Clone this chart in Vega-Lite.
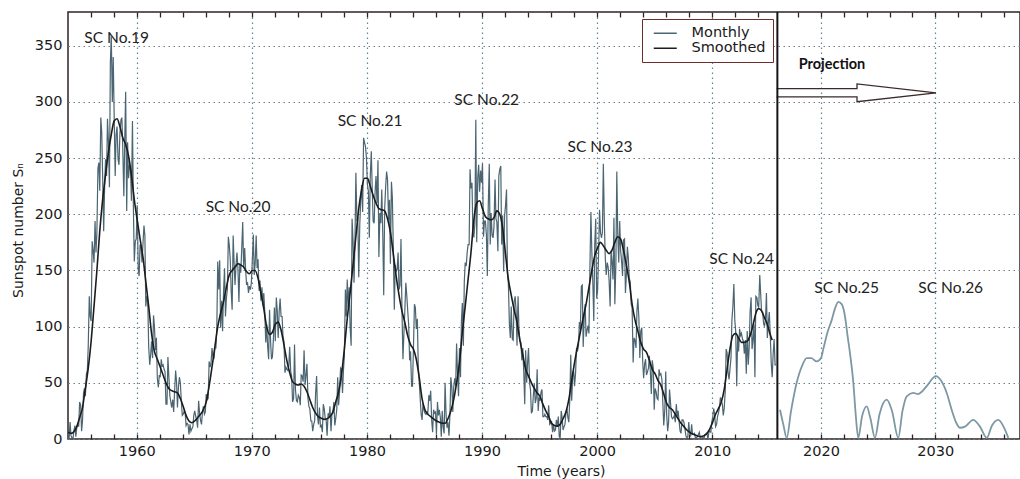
{
"$schema": "https://vega.github.io/schema/vega-lite/v6.json",
"width": 952, "height": 427,
"autosize": "none",
"padding": {"left": 68, "top": 12, "right": 0, "bottom": 40},
"background": "white",
"config": {
 "view": {"stroke": "#2e2424", "strokeWidth": 1.5},
 "axis": {"labelFont": "DejaVu Sans", "labelFontSize": 14.5, "labelColor": "#1a1a1a", "titleFont": "DejaVu Sans", "titleFontSize": 14, "titleFontWeight": "normal", "titleColor": "#1a1a1a", "labelOverlap": false, "labelFlush": false}
},
"resolve": {"scale": {"x": "independent"}, "axis": {"x": "independent", "y": "independent"}},
"datasets": {
"monthly": [
{"t":1954.04,"v":0},{"t":1954.13,"v":1},{"t":1954.21,"v":15},{"t":1954.29,"v":3},{"t":1954.38,"v":1},{"t":1954.46,"v":0},{"t":1954.54,"v":7},{"t":1954.63,"v":12},{"t":1954.71,"v":2},{"t":1954.79,"v":10},{"t":1954.88,"v":13},{"t":1954.96,"v":11},
{"t":1955.04,"v":33},{"t":1955.13,"v":30},{"t":1955.21,"v":7},{"t":1955.29,"v":16},{"t":1955.38,"v":41},{"t":1955.46,"v":45},{"t":1955.54,"v":38},{"t":1955.63,"v":58},{"t":1955.71,"v":61},{"t":1955.79,"v":83},{"t":1955.88,"v":127},{"t":1955.96,"v":109},
{"t":1956.04,"v":105},{"t":1956.13,"v":176},{"t":1956.21,"v":168},{"t":1956.29,"v":157},{"t":1956.38,"v":194},{"t":1956.46,"v":166},{"t":1956.54,"v":183},{"t":1956.63,"v":241},{"t":1956.71,"v":246},{"t":1956.79,"v":221},{"t":1956.88,"v":286},{"t":1956.96,"v":273},
{"t":1957.04,"v":234},{"t":1957.13,"v":185},{"t":1957.21,"v":224},{"t":1957.29,"v":249},{"t":1957.38,"v":234},{"t":1957.46,"v":285},{"t":1957.54,"v":266},{"t":1957.63,"v":224},{"t":1957.71,"v":335},{"t":1957.79,"v":359},{"t":1957.88,"v":300},{"t":1957.96,"v":340},
{"t":1958.04,"v":288},{"t":1958.13,"v":234},{"t":1958.21,"v":271},{"t":1958.29,"v":278},{"t":1958.38,"v":249},{"t":1958.46,"v":244},{"t":1958.54,"v":272},{"t":1958.63,"v":284},{"t":1958.71,"v":286},{"t":1958.79,"v":258},{"t":1958.88,"v":216},{"t":1958.96,"v":266},
{"t":1959.04,"v":309},{"t":1959.13,"v":203},{"t":1959.21,"v":264},{"t":1959.29,"v":232},{"t":1959.38,"v":244},{"t":1959.46,"v":240},{"t":1959.54,"v":212},{"t":1959.63,"v":283},{"t":1959.71,"v":206},{"t":1959.79,"v":158},{"t":1959.88,"v":176},{"t":1959.96,"v":178},
{"t":1960.04,"v":208},{"t":1960.13,"v":151},{"t":1960.21,"v":145},{"t":1960.29,"v":173},{"t":1960.38,"v":170},{"t":1960.46,"v":157},{"t":1960.54,"v":173},{"t":1960.63,"v":190},{"t":1960.71,"v":181},{"t":1960.79,"v":118},{"t":1960.88,"v":127},{"t":1960.96,"v":122},
{"t":1961.04,"v":82},{"t":1961.13,"v":66},{"t":1961.21,"v":75},{"t":1961.29,"v":87},{"t":1961.38,"v":72},{"t":1961.46,"v":110},{"t":1961.54,"v":100},{"t":1961.63,"v":79},{"t":1961.71,"v":90},{"t":1961.79,"v":54},{"t":1961.88,"v":46},{"t":1961.96,"v":57},
{"t":1962.04,"v":55},{"t":1962.13,"v":71},{"t":1962.21,"v":65},{"t":1962.29,"v":66},{"t":1962.38,"v":62},{"t":1962.46,"v":60},{"t":1962.54,"v":31},{"t":1962.63,"v":31},{"t":1962.71,"v":73},{"t":1962.79,"v":56},{"t":1962.88,"v":38},{"t":1962.96,"v":33},
{"t":1963.04,"v":28},{"t":1963.13,"v":35},{"t":1963.21,"v":24},{"t":1963.29,"v":42},{"t":1963.38,"v":61},{"t":1963.46,"v":51},{"t":1963.54,"v":28},{"t":1963.63,"v":47},{"t":1963.71,"v":55},{"t":1963.79,"v":50},{"t":1963.88,"v":33},{"t":1963.96,"v":21},
{"t":1964.04,"v":22},{"t":1964.13,"v":25},{"t":1964.21,"v":23},{"t":1964.29,"v":12},{"t":1964.38,"v":14},{"t":1964.46,"v":13},{"t":1964.54,"v":4},{"t":1964.63,"v":13},{"t":1964.71,"v":7},{"t":1964.79,"v":9},{"t":1964.88,"v":11},{"t":1964.96,"v":21},
{"t":1965.04,"v":25},{"t":1965.13,"v":20},{"t":1965.21,"v":17},{"t":1965.29,"v":10},{"t":1965.38,"v":34},{"t":1965.46,"v":23},{"t":1965.54,"v":17},{"t":1965.63,"v":13},{"t":1965.71,"v":24},{"t":1965.79,"v":29},{"t":1965.88,"v":22},{"t":1965.96,"v":24},
{"t":1966.04,"v":40},{"t":1966.13,"v":35},{"t":1966.21,"v":36},{"t":1966.29,"v":69},{"t":1966.38,"v":64},{"t":1966.46,"v":68},{"t":1966.54,"v":81},{"t":1966.63,"v":73},{"t":1966.71,"v":71},{"t":1966.79,"v":81},{"t":1966.88,"v":81},{"t":1966.96,"v":100},
{"t":1967.04,"v":158},{"t":1967.13,"v":133},{"t":1967.21,"v":159},{"t":1967.29,"v":99},{"t":1967.38,"v":123},{"t":1967.46,"v":96},{"t":1967.54,"v":130},{"t":1967.63,"v":152},{"t":1967.71,"v":109},{"t":1967.79,"v":125},{"t":1967.88,"v":134},{"t":1967.96,"v":180},
{"t":1968.04,"v":173},{"t":1968.13,"v":159},{"t":1968.21,"v":131},{"t":1968.29,"v":115},{"t":1968.38,"v":181},{"t":1968.46,"v":157},{"t":1968.54,"v":137},{"t":1968.63,"v":155},{"t":1968.71,"v":166},{"t":1968.79,"v":153},{"t":1968.88,"v":122},{"t":1968.96,"v":156},
{"t":1969.04,"v":148},{"t":1969.13,"v":171},{"t":1969.21,"v":193},{"t":1969.29,"v":152},{"t":1969.38,"v":170},{"t":1969.46,"v":151},{"t":1969.54,"v":138},{"t":1969.63,"v":139},{"t":1969.71,"v":130},{"t":1969.79,"v":136},{"t":1969.88,"v":133},{"t":1969.96,"v":139},
{"t":1970.04,"v":158},{"t":1970.13,"v":182},{"t":1970.21,"v":146},{"t":1970.29,"v":156},{"t":1970.38,"v":181},{"t":1970.46,"v":152},{"t":1970.54,"v":160},{"t":1970.63,"v":132},{"t":1970.71,"v":141},{"t":1970.79,"v":123},{"t":1970.88,"v":135},{"t":1970.96,"v":119},
{"t":1971.04,"v":130},{"t":1971.13,"v":112},{"t":1971.21,"v":86},{"t":1971.29,"v":102},{"t":1971.38,"v":82},{"t":1971.46,"v":71},{"t":1971.54,"v":115},{"t":1971.63,"v":87},{"t":1971.71,"v":71},{"t":1971.79,"v":73},{"t":1971.88,"v":90},{"t":1971.96,"v":117},
{"t":1972.04,"v":87},{"t":1972.13,"v":126},{"t":1972.21,"v":114},{"t":1972.29,"v":90},{"t":1972.38,"v":114},{"t":1972.46,"v":125},{"t":1972.54,"v":109},{"t":1972.63,"v":109},{"t":1972.71,"v":91},{"t":1972.79,"v":87},{"t":1972.88,"v":59},{"t":1972.96,"v":64},
{"t":1973.04,"v":62},{"t":1973.13,"v":61},{"t":1973.21,"v":65},{"t":1973.29,"v":82},{"t":1973.38,"v":60},{"t":1973.46,"v":56},{"t":1973.54,"v":33},{"t":1973.63,"v":36},{"t":1973.71,"v":84},{"t":1973.79,"v":44},{"t":1973.88,"v":34},{"t":1973.96,"v":33},
{"t":1974.04,"v":39},{"t":1974.13,"v":37},{"t":1974.21,"v":30},{"t":1974.29,"v":57},{"t":1974.38,"v":56},{"t":1974.46,"v":51},{"t":1974.54,"v":79},{"t":1974.63,"v":48},{"t":1974.71,"v":57},{"t":1974.79,"v":67},{"t":1974.88,"v":36},{"t":1974.96,"v":29},
{"t":1975.04,"v":27},{"t":1975.13,"v":16},{"t":1975.21,"v":16},{"t":1975.29,"v":7},{"t":1975.38,"v":13},{"t":1975.46,"v":16},{"t":1975.54,"v":40},{"t":1975.63,"v":56},{"t":1975.71,"v":20},{"t":1975.79,"v":13},{"t":1975.88,"v":28},{"t":1975.96,"v":11},
{"t":1976.04,"v":12},{"t":1976.13,"v":6},{"t":1976.21,"v":31},{"t":1976.29,"v":27},{"t":1976.38,"v":18},{"t":1976.46,"v":17},{"t":1976.54,"v":3},{"t":1976.63,"v":23},{"t":1976.71,"v":19},{"t":1976.79,"v":29},{"t":1976.88,"v":7},{"t":1976.96,"v":22},
{"t":1977.04,"v":23},{"t":1977.13,"v":33},{"t":1977.21,"v":12},{"t":1977.29,"v":18},{"t":1977.38,"v":26},{"t":1977.46,"v":55},{"t":1977.54,"v":30},{"t":1977.63,"v":43},{"t":1977.71,"v":63},{"t":1977.79,"v":62},{"t":1977.88,"v":41},{"t":1977.96,"v":61},
{"t":1978.04,"v":74},{"t":1978.13,"v":133},{"t":1978.21,"v":109},{"t":1978.29,"v":142},{"t":1978.38,"v":117},{"t":1978.46,"v":135},{"t":1978.54,"v":100},{"t":1978.63,"v":83},{"t":1978.71,"v":196},{"t":1978.79,"v":178},{"t":1978.88,"v":139},{"t":1978.96,"v":174},
{"t":1979.04,"v":237},{"t":1979.13,"v":195},{"t":1979.21,"v":196},{"t":1979.29,"v":144},{"t":1979.38,"v":191},{"t":1979.46,"v":212},{"t":1979.54,"v":226},{"t":1979.63,"v":202},{"t":1979.71,"v":268},{"t":1979.79,"v":264},{"t":1979.88,"v":260},{"t":1979.96,"v":250},
{"t":1980.04,"v":227},{"t":1980.13,"v":220},{"t":1980.21,"v":179},{"t":1980.29,"v":233},{"t":1980.38,"v":256},{"t":1980.46,"v":223},{"t":1980.54,"v":194},{"t":1980.63,"v":192},{"t":1980.71,"v":220},{"t":1980.79,"v":234},{"t":1980.88,"v":210},{"t":1980.96,"v":248},
{"t":1981.04,"v":162},{"t":1981.13,"v":201},{"t":1981.21,"v":192},{"t":1981.29,"v":222},{"t":1981.38,"v":181},{"t":1981.46,"v":128},{"t":1981.54,"v":204},{"t":1981.63,"v":225},{"t":1981.71,"v":238},{"t":1981.79,"v":231},{"t":1981.88,"v":195},{"t":1981.96,"v":213},
{"t":1982.04,"v":156},{"t":1982.13,"v":229},{"t":1982.21,"v":215},{"t":1982.29,"v":171},{"t":1982.38,"v":115},{"t":1982.46,"v":155},{"t":1982.54,"v":149},{"t":1982.63,"v":151},{"t":1982.71,"v":166},{"t":1982.79,"v":133},{"t":1982.88,"v":137},{"t":1982.96,"v":178},
{"t":1983.04,"v":118},{"t":1983.13,"v":71},{"t":1983.21,"v":93},{"t":1983.29,"v":113},{"t":1983.38,"v":139},{"t":1983.46,"v":128},{"t":1983.54,"v":115},{"t":1983.63,"v":101},{"t":1983.71,"v":70},{"t":1983.79,"v":78},{"t":1983.88,"v":47},{"t":1983.96,"v":47},
{"t":1984.04,"v":80},{"t":1984.13,"v":120},{"t":1984.21,"v":117},{"t":1984.29,"v":98},{"t":1984.38,"v":107},{"t":1984.46,"v":65},{"t":1984.54,"v":52},{"t":1984.63,"v":36},{"t":1984.71,"v":22},{"t":1984.79,"v":17},{"t":1984.88,"v":32},{"t":1984.96,"v":26},
{"t":1985.04,"v":23},{"t":1985.13,"v":22},{"t":1985.21,"v":24},{"t":1985.29,"v":23},{"t":1985.38,"v":39},{"t":1985.46,"v":34},{"t":1985.54,"v":43},{"t":1985.63,"v":16},{"t":1985.71,"v":6},{"t":1985.79,"v":26},{"t":1985.88,"v":23},{"t":1985.96,"v":24},
{"t":1986.04,"v":4},{"t":1986.13,"v":33},{"t":1986.21,"v":21},{"t":1986.29,"v":26},{"t":1986.38,"v":19},{"t":1986.46,"v":2},{"t":1986.54,"v":25},{"t":1986.63,"v":10},{"t":1986.71,"v":5},{"t":1986.79,"v":50},{"t":1986.88,"v":21},{"t":1986.96,"v":10},
{"t":1987.04,"v":15},{"t":1987.13,"v":3},{"t":1987.21,"v":21},{"t":1987.29,"v":55},{"t":1987.38,"v":46},{"t":1987.46,"v":24},{"t":1987.54,"v":46},{"t":1987.63,"v":54},{"t":1987.71,"v":47},{"t":1987.79,"v":85},{"t":1987.88,"v":56},{"t":1987.96,"v":38},
{"t":1988.04,"v":81},{"t":1988.13,"v":55},{"t":1988.21,"v":105},{"t":1988.29,"v":121},{"t":1988.38,"v":83},{"t":1988.46,"v":140},{"t":1988.54,"v":157},{"t":1988.63,"v":154},{"t":1988.71,"v":166},{"t":1988.79,"v":173},{"t":1988.88,"v":173},{"t":1988.96,"v":240},
{"t":1989.04,"v":223},{"t":1989.13,"v":228},{"t":1989.21,"v":181},{"t":1989.29,"v":180},{"t":1989.38,"v":191},{"t":1989.46,"v":284},{"t":1989.54,"v":175},{"t":1989.63,"v":233},{"t":1989.71,"v":244},{"t":1989.79,"v":220},{"t":1989.88,"v":239},{"t":1989.96,"v":228},
{"t":1990.04,"v":245},{"t":1990.13,"v":180},{"t":1990.21,"v":194},{"t":1990.29,"v":194},{"t":1990.38,"v":182},{"t":1990.46,"v":145},{"t":1990.54,"v":206},{"t":1990.63,"v":245},{"t":1990.71,"v":173},{"t":1990.79,"v":201},{"t":1990.88,"v":181},{"t":1990.96,"v":179},
{"t":1991.04,"v":189},{"t":1991.13,"v":231},{"t":1991.21,"v":196},{"t":1991.29,"v":193},{"t":1991.38,"v":167},{"t":1991.46,"v":234},{"t":1991.54,"v":240},{"t":1991.63,"v":243},{"t":1991.71,"v":173},{"t":1991.79,"v":199},{"t":1991.88,"v":149},{"t":1991.96,"v":199},
{"t":1992.04,"v":207},{"t":1992.13,"v":222},{"t":1992.21,"v":147},{"t":1992.29,"v":138},{"t":1992.38,"v":102},{"t":1992.46,"v":90},{"t":1992.54,"v":118},{"t":1992.63,"v":89},{"t":1992.71,"v":88},{"t":1992.79,"v":122},{"t":1992.88,"v":127},{"t":1992.96,"v":114},
{"t":1993.04,"v":83},{"t":1993.13,"v":127},{"t":1993.21,"v":98},{"t":1993.29,"v":87},{"t":1993.38,"v":86},{"t":1993.46,"v":70},{"t":1993.54,"v":81},{"t":1993.63,"v":59},{"t":1993.71,"v":31},{"t":1993.79,"v":79},{"t":1993.88,"v":50},{"t":1993.96,"v":68},
{"t":1994.04,"v":81},{"t":1994.13,"v":50},{"t":1994.21,"v":44},{"t":1994.29,"v":23},{"t":1994.38,"v":25},{"t":1994.46,"v":39},{"t":1994.54,"v":49},{"t":1994.63,"v":32},{"t":1994.71,"v":36},{"t":1994.79,"v":62},{"t":1994.88,"v":25},{"t":1994.96,"v":37},
{"t":1995.04,"v":34},{"t":1995.13,"v":42},{"t":1995.21,"v":44},{"t":1995.29,"v":20},{"t":1995.38,"v":20},{"t":1995.46,"v":22},{"t":1995.54,"v":20},{"t":1995.63,"v":20},{"t":1995.71,"v":17},{"t":1995.79,"v":30},{"t":1995.88,"v":13},{"t":1995.96,"v":14},
{"t":1996.04,"v":16},{"t":1996.13,"v":6},{"t":1996.21,"v":13},{"t":1996.29,"v":7},{"t":1996.38,"v":8},{"t":1996.46,"v":17},{"t":1996.54,"v":11},{"t":1996.63,"v":20},{"t":1996.71,"v":2},{"t":1996.79,"v":1},{"t":1996.88,"v":25},{"t":1996.96,"v":19},
{"t":1997.04,"v":8},{"t":1997.13,"v":11},{"t":1997.21,"v":13},{"t":1997.29,"v":23},{"t":1997.38,"v":27},{"t":1997.46,"v":19},{"t":1997.54,"v":15},{"t":1997.63,"v":36},{"t":1997.71,"v":75},{"t":1997.79,"v":34},{"t":1997.88,"v":57},{"t":1997.96,"v":61},
{"t":1998.04,"v":47},{"t":1998.13,"v":59},{"t":1998.21,"v":81},{"t":1998.29,"v":78},{"t":1998.38,"v":83},{"t":1998.46,"v":104},{"t":1998.54,"v":98},{"t":1998.63,"v":136},{"t":1998.71,"v":137},{"t":1998.79,"v":82},{"t":1998.88,"v":109},{"t":1998.96,"v":120},
{"t":1999.04,"v":91},{"t":1999.13,"v":97},{"t":1999.21,"v":101},{"t":1999.29,"v":94},{"t":1999.38,"v":156},{"t":1999.46,"v":202},{"t":1999.54,"v":167},{"t":1999.63,"v":138},{"t":1999.71,"v":105},{"t":1999.79,"v":172},{"t":1999.88,"v":196},{"t":1999.96,"v":125},
{"t":2000.04,"v":132},{"t":2000.13,"v":166},{"t":2000.21,"v":204},{"t":2000.29,"v":184},{"t":2000.38,"v":179},{"t":2000.46,"v":184},{"t":2000.54,"v":245},{"t":2000.63,"v":192},{"t":2000.71,"v":161},{"t":2000.79,"v":146},{"t":2000.88,"v":157},{"t":2000.96,"v":153},
{"t":2001.04,"v":141},{"t":2001.13,"v":118},{"t":2001.21,"v":167},{"t":2001.29,"v":158},{"t":2001.38,"v":142},{"t":2001.46,"v":197},{"t":2001.54,"v":120},{"t":2001.63,"v":156},{"t":2001.71,"v":238},{"t":2001.79,"v":184},{"t":2001.88,"v":157},{"t":2001.96,"v":194},
{"t":2002.04,"v":168},{"t":2002.13,"v":158},{"t":2002.21,"v":145},{"t":2002.29,"v":177},{"t":2002.38,"v":178},{"t":2002.46,"v":130},{"t":2002.54,"v":146},{"t":2002.63,"v":171},{"t":2002.71,"v":161},{"t":2002.79,"v":143},{"t":2002.88,"v":140},{"t":2002.96,"v":120},
{"t":2003.04,"v":117},{"t":2003.13,"v":68},{"t":2003.21,"v":90},{"t":2003.29,"v":88},{"t":2003.38,"v":81},{"t":2003.46,"v":114},{"t":2003.54,"v":125},{"t":2003.63,"v":107},{"t":2003.71,"v":72},{"t":2003.79,"v":96},{"t":2003.88,"v":99},{"t":2003.96,"v":69},
{"t":2004.04,"v":54},{"t":2004.13,"v":67},{"t":2004.21,"v":71},{"t":2004.29,"v":57},{"t":2004.38,"v":60},{"t":2004.46,"v":63},{"t":2004.54,"v":74},{"t":2004.63,"v":59},{"t":2004.71,"v":40},{"t":2004.79,"v":70},{"t":2004.88,"v":63},{"t":2004.96,"v":26},
{"t":2005.04,"v":45},{"t":2005.13,"v":42},{"t":2005.21,"v":36},{"t":2005.29,"v":35},{"t":2005.38,"v":62},{"t":2005.46,"v":57},{"t":2005.54,"v":58},{"t":2005.63,"v":53},{"t":2005.71,"v":32},{"t":2005.79,"v":12},{"t":2005.88,"v":26},{"t":2005.96,"v":60},
{"t":2006.04,"v":22},{"t":2006.13,"v":7},{"t":2006.21,"v":15},{"t":2006.29,"v":44},{"t":2006.38,"v":32},{"t":2006.46,"v":20},{"t":2006.54,"v":18},{"t":2006.63,"v":19},{"t":2006.71,"v":21},{"t":2006.79,"v":15},{"t":2006.88,"v":31},{"t":2006.96,"v":20},
{"t":2007.04,"v":25},{"t":2007.13,"v":15},{"t":2007.21,"v":7},{"t":2007.29,"v":5},{"t":2007.38,"v":17},{"t":2007.46,"v":17},{"t":2007.54,"v":15},{"t":2007.63,"v":9},{"t":2007.71,"v":3},{"t":2007.79,"v":1},{"t":2007.88,"v":2},{"t":2007.96,"v":15},
{"t":2008.04,"v":5},{"t":2008.13,"v":3},{"t":2008.21,"v":13},{"t":2008.29,"v":4},{"t":2008.38,"v":4},{"t":2008.46,"v":5},{"t":2008.54,"v":1},{"t":2008.63,"v":1},{"t":2008.71,"v":2},{"t":2008.79,"v":4},{"t":2008.88,"v":6},{"t":2008.96,"v":1},
{"t":2009.04,"v":2},{"t":2009.13,"v":2},{"t":2009.21,"v":1},{"t":2009.29,"v":1},{"t":2009.38,"v":4},{"t":2009.46,"v":4},{"t":2009.54,"v":5},{"t":2009.63,"v":0},{"t":2009.71,"v":6},{"t":2009.79,"v":7},{"t":2009.88,"v":6},{"t":2009.96,"v":15},
{"t":2010.04,"v":19},{"t":2010.13,"v":27},{"t":2010.21,"v":22},{"t":2010.29,"v":11},{"t":2010.38,"v":13},{"t":2010.46,"v":20},{"t":2010.54,"v":23},{"t":2010.63,"v":28},{"t":2010.71,"v":37},{"t":2010.79,"v":34},{"t":2010.88,"v":31},{"t":2010.96,"v":21},
{"t":2011.04,"v":27},{"t":2011.13,"v":42},{"t":2011.21,"v":80},{"t":2011.29,"v":77},{"t":2011.38,"v":59},{"t":2011.46,"v":53},{"t":2011.54,"v":62},{"t":2011.63,"v":72},{"t":2011.71,"v":106},{"t":2011.79,"v":117},{"t":2011.88,"v":138},{"t":2011.96,"v":106},
{"t":2012.04,"v":96},{"t":2012.13,"v":47},{"t":2012.21,"v":91},{"t":2012.29,"v":78},{"t":2012.38,"v":98},{"t":2012.46,"v":92},{"t":2012.54,"v":94},{"t":2012.63,"v":89},{"t":2012.71,"v":87},{"t":2012.79,"v":76},{"t":2012.88,"v":88},{"t":2012.96,"v":58},
{"t":2013.04,"v":96},{"t":2013.13,"v":66},{"t":2013.21,"v":81},{"t":2013.29,"v":113},{"t":2013.38,"v":126},{"t":2013.46,"v":80},{"t":2013.54,"v":88},{"t":2013.63,"v":102},{"t":2013.71,"v":55},{"t":2013.79,"v":127},{"t":2013.88,"v":126},{"t":2013.96,"v":119},
{"t":2014.04,"v":117},{"t":2014.13,"v":146},{"t":2014.21,"v":129},{"t":2014.29,"v":113},{"t":2014.38,"v":113},{"t":2014.46,"v":103},{"t":2014.54,"v":100},{"t":2014.63,"v":107},{"t":2014.71,"v":130},{"t":2014.79,"v":90},{"t":2014.88,"v":104},{"t":2014.96,"v":113},
{"t":2015.04,"v":93},{"t":2015.13,"v":67},{"t":2015.21,"v":55},{"t":2015.29,"v":75},{"t":2015.38,"v":89},{"t":2015.46,"v":66},{"t":2015.54,"v":66}
],
"smoothed": [
{"t":1954.04,"v":6},{"t":1954.29,"v":5},{"t":1954.54,"v":6.5},{"t":1954.79,"v":11},
{"t":1955.04,"v":19},{"t":1955.29,"v":28},{"t":1955.54,"v":45},{"t":1955.79,"v":63},
{"t":1956.04,"v":87},{"t":1956.29,"v":118},{"t":1956.54,"v":150},{"t":1956.79,"v":185},
{"t":1957.04,"v":213},{"t":1957.29,"v":235},{"t":1957.54,"v":255},{"t":1957.79,"v":271},
{"t":1958.04,"v":283},{"t":1958.29,"v":285},{"t":1958.54,"v":278},{"t":1958.79,"v":268},
{"t":1959.04,"v":262},{"t":1959.29,"v":252},{"t":1959.54,"v":235},{"t":1959.79,"v":213},
{"t":1960.04,"v":195},{"t":1960.29,"v":178},{"t":1960.54,"v":162},{"t":1960.79,"v":140},
{"t":1961.04,"v":118},{"t":1961.29,"v":94},{"t":1961.54,"v":78},{"t":1961.79,"v":71},
{"t":1962.04,"v":64},{"t":1962.29,"v":57},{"t":1962.54,"v":50},{"t":1962.79,"v":45},
{"t":1963.04,"v":43},{"t":1963.29,"v":42},{"t":1963.54,"v":41},{"t":1963.79,"v":36},
{"t":1964.04,"v":29},{"t":1964.29,"v":21},{"t":1964.54,"v":16},{"t":1964.79,"v":14.5},
{"t":1965.04,"v":16},{"t":1965.29,"v":19},{"t":1965.54,"v":22},{"t":1965.79,"v":26},
{"t":1966.04,"v":33},{"t":1966.29,"v":47},{"t":1966.54,"v":64},{"t":1966.79,"v":82},
{"t":1967.04,"v":100},{"t":1967.29,"v":112},{"t":1967.54,"v":122},{"t":1967.79,"v":135},
{"t":1968.04,"v":146},{"t":1968.29,"v":150},{"t":1968.54,"v":153},{"t":1968.79,"v":156},
{"t":1969.04,"v":155},{"t":1969.29,"v":153},{"t":1969.54,"v":149},{"t":1969.79,"v":147},
{"t":1970.04,"v":150},{"t":1970.29,"v":150},{"t":1970.54,"v":143},{"t":1970.79,"v":130},
{"t":1971.04,"v":116},{"t":1971.29,"v":100},{"t":1971.54,"v":93},{"t":1971.79,"v":95},
{"t":1972.04,"v":102},{"t":1972.29,"v":104},{"t":1972.54,"v":97},{"t":1972.79,"v":84},
{"t":1973.04,"v":70},{"t":1973.29,"v":59},{"t":1973.54,"v":51},{"t":1973.79,"v":49},
{"t":1974.04,"v":48},{"t":1974.29,"v":49},{"t":1974.54,"v":47},{"t":1974.79,"v":42},
{"t":1975.04,"v":35},{"t":1975.29,"v":28},{"t":1975.54,"v":23},{"t":1975.79,"v":20},
{"t":1976.04,"v":18.5},{"t":1976.29,"v":17.5},{"t":1976.54,"v":18},{"t":1976.79,"v":20},
{"t":1977.04,"v":24},{"t":1977.29,"v":33},{"t":1977.54,"v":42},{"t":1977.79,"v":57},
{"t":1978.04,"v":80},{"t":1978.29,"v":107},{"t":1978.54,"v":130},{"t":1978.79,"v":155},
{"t":1979.04,"v":180},{"t":1979.29,"v":205},{"t":1979.54,"v":222},{"t":1979.79,"v":232},
{"t":1980.04,"v":232},{"t":1980.29,"v":225},{"t":1980.54,"v":217},{"t":1980.79,"v":210},
{"t":1981.04,"v":205},{"t":1981.29,"v":204},{"t":1981.54,"v":203},{"t":1981.79,"v":196},
{"t":1982.04,"v":184},{"t":1982.29,"v":165},{"t":1982.54,"v":145},{"t":1982.79,"v":128},
{"t":1983.04,"v":114},{"t":1983.29,"v":104},{"t":1983.54,"v":92},{"t":1983.79,"v":84},
{"t":1984.04,"v":80},{"t":1984.29,"v":71},{"t":1984.54,"v":55},{"t":1984.79,"v":36},
{"t":1985.04,"v":26},{"t":1985.29,"v":22},{"t":1985.54,"v":20},{"t":1985.79,"v":18},
{"t":1986.04,"v":16},{"t":1986.29,"v":15},{"t":1986.54,"v":14},{"t":1986.79,"v":14},
{"t":1987.04,"v":18},{"t":1987.29,"v":25},{"t":1987.54,"v":35},{"t":1987.79,"v":50},
{"t":1988.04,"v":68},{"t":1988.29,"v":95},{"t":1988.54,"v":118},{"t":1988.79,"v":142},
{"t":1989.04,"v":166},{"t":1989.29,"v":195},{"t":1989.54,"v":210},{"t":1989.79,"v":212},
{"t":1990.04,"v":205},{"t":1990.29,"v":198},{"t":1990.54,"v":196},{"t":1990.79,"v":195},
{"t":1991.04,"v":197},{"t":1991.29,"v":203},{"t":1991.54,"v":200},{"t":1991.79,"v":188},
{"t":1992.04,"v":165},{"t":1992.29,"v":142},{"t":1992.54,"v":128},{"t":1992.79,"v":115},
{"t":1993.04,"v":104},{"t":1993.29,"v":88},{"t":1993.54,"v":75},{"t":1993.79,"v":62},
{"t":1994.04,"v":56},{"t":1994.29,"v":50},{"t":1994.54,"v":45},{"t":1994.79,"v":41},
{"t":1995.04,"v":38},{"t":1995.29,"v":31},{"t":1995.54,"v":25},{"t":1995.79,"v":20},
{"t":1996.04,"v":14},{"t":1996.29,"v":12},{"t":1996.54,"v":11.5},{"t":1996.79,"v":13},
{"t":1997.04,"v":18},{"t":1997.29,"v":24},{"t":1997.54,"v":35},{"t":1997.79,"v":52},
{"t":1998.04,"v":68},{"t":1998.29,"v":82},{"t":1998.54,"v":95},{"t":1998.79,"v":108},
{"t":1999.04,"v":120},{"t":1999.29,"v":135},{"t":1999.54,"v":150},{"t":1999.79,"v":163},
{"t":2000.04,"v":170},{"t":2000.29,"v":175},{"t":2000.54,"v":172},{"t":2000.79,"v":168},
{"t":2001.04,"v":165},{"t":2001.29,"v":168},{"t":2001.54,"v":175},{"t":2001.79,"v":180},
{"t":2002.04,"v":178},{"t":2002.29,"v":168},{"t":2002.54,"v":155},{"t":2002.79,"v":140},
{"t":2003.04,"v":120},{"t":2003.29,"v":106},{"t":2003.54,"v":96},{"t":2003.79,"v":86},
{"t":2004.04,"v":80},{"t":2004.29,"v":77},{"t":2004.54,"v":70},{"t":2004.79,"v":62},
{"t":2005.04,"v":58},{"t":2005.29,"v":52},{"t":2005.54,"v":48},{"t":2005.79,"v":40},
{"t":2006.04,"v":32},{"t":2006.29,"v":28},{"t":2006.54,"v":26},{"t":2006.79,"v":22},
{"t":2007.04,"v":18},{"t":2007.29,"v":14},{"t":2007.54,"v":11},{"t":2007.79,"v":8},
{"t":2008.04,"v":6},{"t":2008.29,"v":4.5},{"t":2008.54,"v":3.5},{"t":2008.79,"v":2.5},
{"t":2009.04,"v":2.2},{"t":2009.29,"v":3},{"t":2009.54,"v":5},{"t":2009.79,"v":9},
{"t":2010.04,"v":15},{"t":2010.29,"v":22},{"t":2010.54,"v":27},{"t":2010.79,"v":33},
{"t":2011.04,"v":44},{"t":2011.29,"v":62},{"t":2011.54,"v":80},{"t":2011.79,"v":92},
{"t":2012.04,"v":94},{"t":2012.29,"v":90},{"t":2012.54,"v":86},{"t":2012.79,"v":86},
{"t":2013.04,"v":87},{"t":2013.29,"v":92},{"t":2013.54,"v":101},{"t":2013.79,"v":112},
{"t":2014.04,"v":116},{"t":2014.29,"v":114},{"t":2014.54,"v":108},{"t":2014.79,"v":102},
{"t":2015.04,"v":93},{"t":2015.21,"v":88}
],
"projection": [
{"t":2016.41,"v":26},{"t":2016.7,"v":13},{"t":2017.0,"v":1},{"t":2017.38,"v":25},{"t":2017.87,"v":50},{"t":2018.38,"v":66},{"t":2018.75,"v":72},{"t":2019.15,"v":72},{"t":2019.62,"v":69},{"t":2020.0,"v":72},{"t":2020.2,"v":80},{"t":2020.57,"v":95},{"t":2020.94,"v":106},{"t":2021.22,"v":116},{"t":2021.51,"v":122},{"t":2021.81,"v":120},{"t":2022.1,"v":109},{"t":2022.32,"v":92},{"t":2022.54,"v":76},{"t":2022.83,"v":50},{"t":2023.02,"v":24},{"t":2023.26,"v":1},{"t":2023.59,"v":20},{"t":2024.0,"v":29},{"t":2024.33,"v":18},{"t":2024.72,"v":1},{"t":2025.12,"v":22},{"t":2025.75,"v":35},{"t":2026.21,"v":25},{"t":2026.76,"v":1},{"t":2027.13,"v":25},{"t":2027.5,"v":38},{"t":2028.08,"v":41},{"t":2028.49,"v":40},{"t":2028.81,"v":42},{"t":2029.32,"v":48},{"t":2030.05,"v":56},{"t":2030.5,"v":52},{"t":2031.0,"v":41},{"t":2031.46,"v":25},{"t":2031.85,"v":14},{"t":2032.16,"v":10},{"t":2032.6,"v":11},{"t":2033.32,"v":17},{"t":2033.91,"v":11},{"t":2034.5,"v":1},{"t":2034.96,"v":12},{"t":2035.51,"v":17},{"t":2035.97,"v":11},{"t":2036.39,"v":1}
],
"labelsL": [
{"label":"SC No.19","t":1958.26,"v":356.8},{"label":"SC No.20","t":1968.8,"v":206.8},{"label":"SC No.21","t":1980.27,"v":283.3},{"label":"SC No.22","t":1990.41,"v":301.7},{"label":"SC No.23","t":2000.25,"v":260.2},{"label":"SC No.24","t":2012.56,"v":160.1}
],
"labelsR": [
{"label":"SC No.25","t":2022.25,"v":134.3},{"label":"SC No.26","t":2031.35,"v":134.3}
],
"divider": [{"t": 2015.66}],
"arrow": [
{"i":0,"t":2016.12,"v":311.8},{"i":1,"t":2023.15,"v":311.8},{"i":2,"t":2023.15,"v":316},{"i":3,"t":2030.06,"v":308},{"i":4,"t":2023.15,"v":300.2},{"i":5,"t":2023.15,"v":304.4},{"i":6,"t":2016.12,"v":304.4}
],
"heading": [{"label": "Projection", "t": 2020.96, "v": 332.8}]
},
"layer": [
{
 "data": {"name": "labelsL"},
 "mark": {"type": "text", "font": "Lato", "fontSize": 15.5, "color": "#222222", "align": "center", "baseline": "middle"},
 "encoding": {
  "x": {"field": "t", "type": "quantitative", "scale": {"domain": [1954.03, 2036.74], "nice": false, "zero": false},
        "axis": {"orient": "bottom", "values": [1960,1970,1980,1990,2000,2010], "labels": false, "ticks": false, "domain": false, "grid": true, "gridColor": "#5d8593", "gridDash": [1.5, 3.5], "gridWidth": 1.2, "title": null}},
  "y": {"field": "v", "type": "quantitative", "scale": {"domain": [0, 380], "nice": false},
        "axis": {"orient": "left", "values": [0,50,100,150,200,250,300,350], "ticks": false, "domain": false, "grid": true, "gridColor": "#6f8088", "gridDash": [1.5, 3.5], "gridWidth": 1.2, "labelPadding": 6,
                 "title": "Sunspot number Sₙ", "titleX": -50, "titleY": 218, "titleAngle": -90, "titleAlign": "center", "titleBaseline": "middle"}},
  "text": {"field": "label"}
 }
},
{
 "data": {"name": "labelsR"},
 "mark": {"type": "text", "font": "Lato", "fontSize": 15.5, "color": "#222222", "align": "center", "baseline": "middle"},
 "encoding": {
  "x": {"field": "t", "type": "quantitative", "scale": {"domain": [1954.12, 2037.41], "nice": false, "zero": false},
        "axis": {"orient": "bottom", "values": [2020, 2030], "labels": false, "ticks": false, "domain": false, "grid": true, "gridColor": "#5d8593", "gridDash": [1.5, 3.5], "gridWidth": 1.2, "title": null}},
  "y": {"field": "v", "type": "quantitative", "axis": null},
  "text": {"field": "label"}
 }
},
{
 "data": {"name": "monthly"},
 "mark": {"type": "line", "strokeWidth": 1.2, "clip": true},
 "encoding": {
  "x": {"field": "t", "type": "quantitative", "scale": {"domain": [1954.03, 2036.74], "nice": false, "zero": false},
        "axis": {"orient": "bottom", "offset": -5, "ticks": true, "tickSize": 5, "tickColor": "#2e2424", "tickWidth": 1.3,
                 "values": [1956,1958,1960,1962,1964,1966,1968,1970,1972,1974,1976,1978,1980,1982,1984,1986,1988,1990,1992,1994,1996,1998,2000,2002,2004,2006,2008,2010,2012,2014],
                 "format": "d", "labelExpr": "datum.value % 10 === 0 ? datum.label : ''", "grid": false, "domain": false, "labelPadding": 5,
                 "title": "Time (years)", "titleX": 493, "titleY": 37, "titleAlign": "center", "titleBaseline": "middle"}},
  "y": {"field": "v", "type": "quantitative", "axis": null},
  "color": {"datum": "Monthly", "type": "nominal",
            "scale": {"domain": ["Monthly", "Smoothed"], "range": ["#4b6572", "#1c1c1c"]},
            "legend": {"orient": "none", "legendX": 574, "legendY": 7, "title": null, "symbolType": "M-2,0H2", "symbolSize": 132, "symbolStrokeWidth": 1.5,
                       "labelFont": "DejaVu Sans", "labelFontSize": 14.5, "labelColor": "#1a1a1a", "strokeColor": "#6e2f28", "fillColor": "white",
                       "padding": 7, "rowPadding": 0, "labelOffset": 19, "symbolOffset": 9}}
 }
},
{
 "data": {"name": "smoothed"},
 "mark": {"type": "line", "strokeWidth": 1.6, "interpolate": "monotone", "clip": true},
 "encoding": {
  "x": {"field": "t", "type": "quantitative", "scale": {"domain": [1954.03, 2036.74], "nice": false, "zero": false},
        "axis": {"orient": "top", "offset": -5, "ticks": true, "tickSize": 5, "tickColor": "#2e2424", "tickWidth": 1.3,
                 "values": [1956,1958,1960,1962,1964,1966,1968,1970,1972,1974,1976,1978,1980,1982,1984,1986,1988,1990,1992,1994,1996,1998,2000,2002,2004,2006,2008,2010,2012,2014],
                 "labels": false, "grid": false, "domain": false, "title": null}},
  "y": {"field": "v", "type": "quantitative", "axis": null},
  "color": {"datum": "Smoothed", "type": "nominal"}
 }
},
{
 "data": {"name": "projection"},
 "mark": {"type": "line", "strokeWidth": 1.8, "interpolate": "monotone", "color": "#7d98a5", "clip": true},
 "encoding": {
  "x": {"field": "t", "type": "quantitative", "scale": {"domain": [1954.12, 2037.41], "nice": false, "zero": false},
        "axis": {"orient": "bottom", "offset": -5, "ticks": true, "tickSize": 5, "tickColor": "#2e2424", "tickWidth": 1.3,
                 "values": [2018,2020,2022,2024,2026,2028,2030,2032,2034,2036],
                 "format": "d", "labelExpr": "datum.value % 10 === 0 ? datum.label : ''", "grid": false, "domain": false, "labelPadding": 5, "title": null}},
  "y": {"field": "v", "type": "quantitative", "axis": null}
 }
},
{
 "data": {"name": "arrow"},
 "mark": {"type": "line", "color": "#3a2a2a", "strokeWidth": 1.3},
 "encoding": {
  "x": {"field": "t", "type": "quantitative", "scale": {"domain": [1954.12, 2037.41], "nice": false, "zero": false},
        "axis": {"orient": "top", "offset": -5, "ticks": true, "tickSize": 5, "tickColor": "#2e2424", "tickWidth": 1.3,
                 "values": [2018,2020,2022,2024,2026,2028,2030,2032,2034,2036],
                 "labels": false, "grid": false, "domain": false, "title": null}},
  "y": {"field": "v", "type": "quantitative", "axis": null},
  "order": {"field": "i", "type": "quantitative"}
 }
},
{
 "data": {"name": "divider"},
 "mark": {"type": "rule", "color": "#151515", "strokeWidth": 2},
 "encoding": {"x": {"field": "t", "type": "quantitative", "scale": {"domain": [1954.03, 2036.74], "nice": false, "zero": false}, "axis": null}}
},
{
 "data": {"name": "heading"},
 "mark": {"type": "text", "font": "Lato", "fontSize": 14.5, "fontWeight": "bold", "color": "#111111", "align": "center", "baseline": "middle"},
 "encoding": {
  "x": {"field": "t", "type": "quantitative", "scale": {"domain": [1954.12, 2037.41], "nice": false, "zero": false}, "axis": null},
  "y": {"field": "v", "type": "quantitative", "axis": null},
  "text": {"field": "label"}
 }
}
]
}
